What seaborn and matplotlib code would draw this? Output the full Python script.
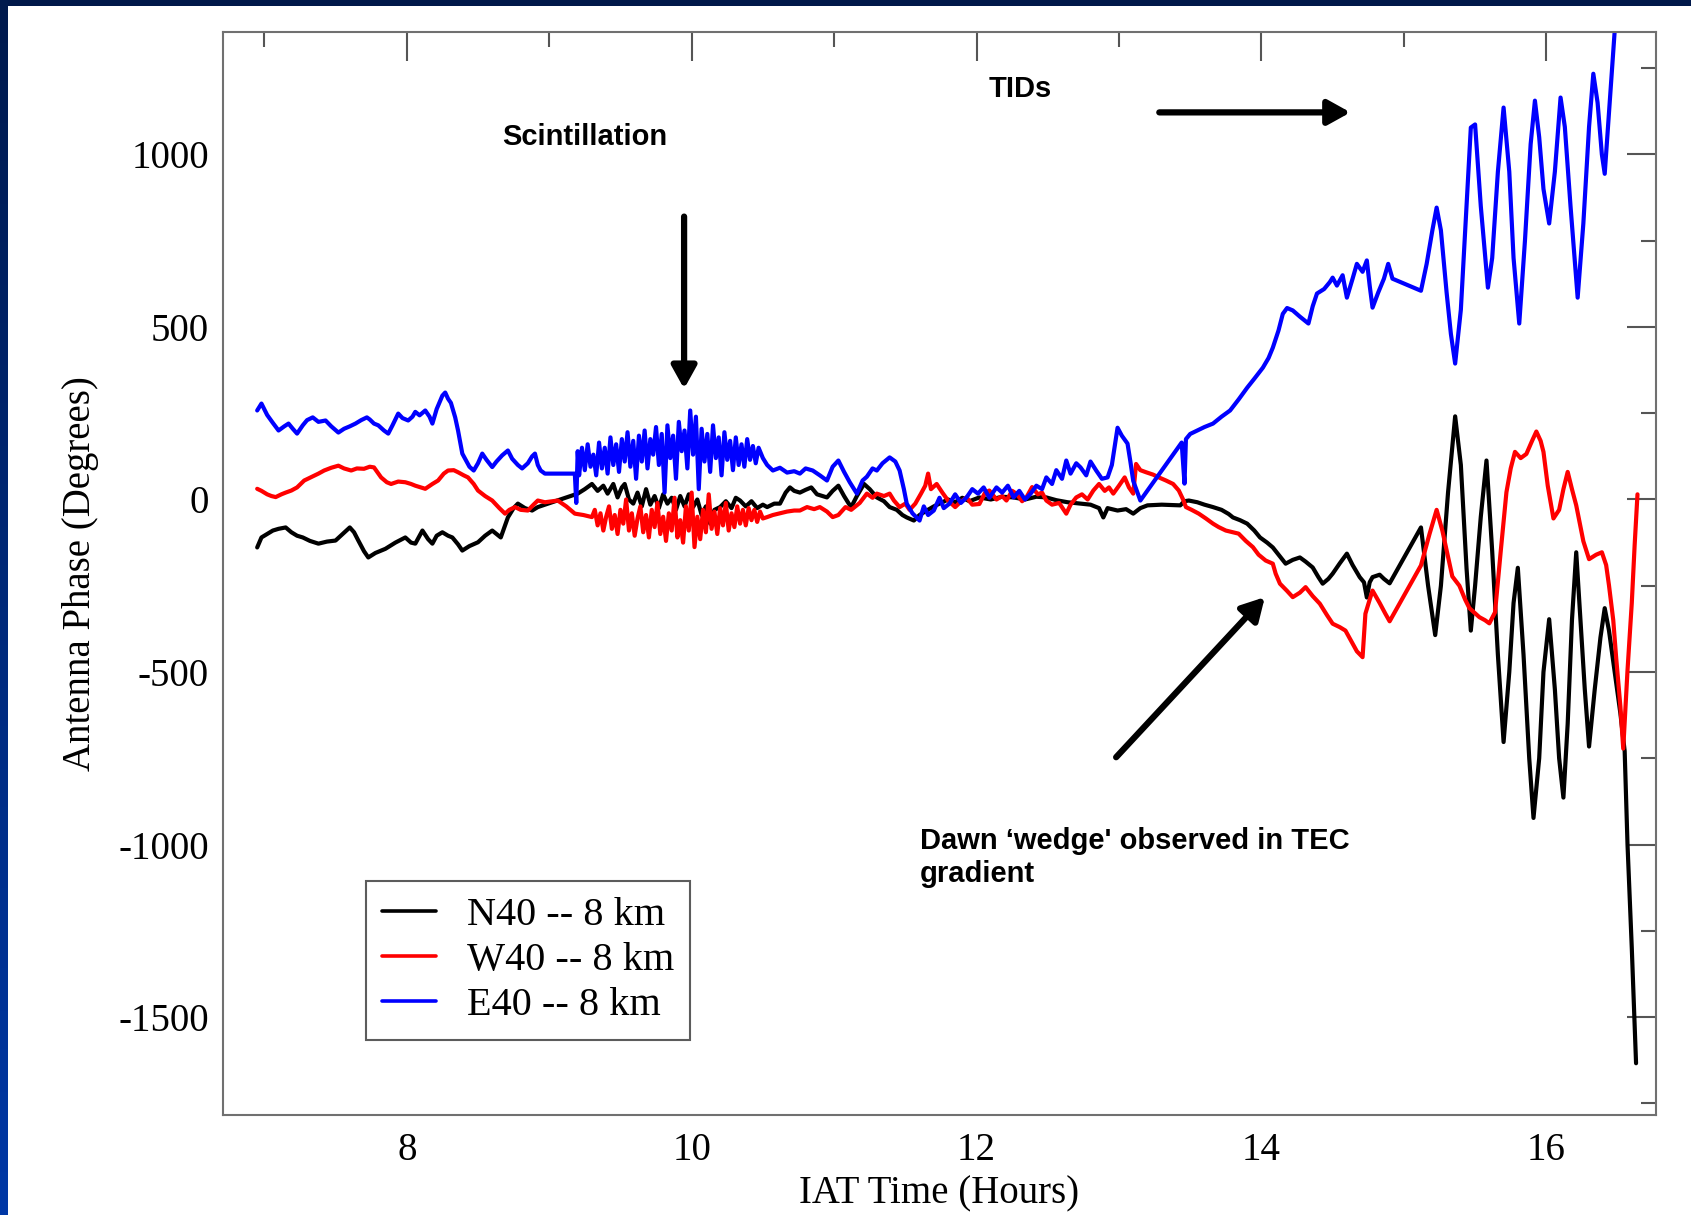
import numpy as np
import pandas as pd
import matplotlib
matplotlib.use('Agg')
import matplotlib.pyplot as plt
import seaborn as sns
from matplotlib.ticker import MultipleLocator
from matplotlib.patches import Rectangle

# ---- data (IAT hours, phase in degrees) ----
n40_t = [6.95, 6.98, 7.02, 7.06, 7.10, 7.15, 7.19, 7.23, 7.27, 7.32, 7.38, 7.44, 7.50, 7.55, 7.60,
         7.63, 7.66, 7.70, 7.73, 7.78, 7.85, 7.92, 7.99, 8.03, 8.06, 8.11, 8.15, 8.18, 8.21, 8.25,
         8.29, 8.32, 8.36, 8.39, 8.44, 8.50, 8.55, 8.60, 8.63, 8.66, 8.69, 8.71, 8.75, 8.78, 8.83,
         8.88, 8.92, 9.20, 9.25, 9.30, 9.34, 9.38, 9.41, 9.45, 9.48, 9.51, 9.53, 9.56, 9.59, 9.62,
         9.65, 9.68, 9.71, 9.74, 9.77, 9.80, 9.83, 9.86, 9.89, 9.92, 9.95, 9.98, 10.01, 10.04, 10.07,
         10.10, 10.13, 10.16, 10.20, 10.24, 10.28, 10.31, 10.34, 10.38, 10.42, 10.46, 10.50, 10.53,
         10.58, 10.62, 10.66, 10.69, 10.72, 10.76, 10.80, 10.84, 10.88, 10.92, 10.95, 10.99, 11.03,
         11.07, 11.10, 11.12, 11.16, 11.21, 11.25, 11.30, 11.35, 11.39, 11.44, 11.48, 11.51, 11.56,
         11.60, 11.65, 11.70, 11.75, 11.80, 11.85, 11.90, 11.95, 12.02, 12.10, 12.18, 12.26, 12.34,
         12.42, 12.49, 12.56, 12.64, 12.73, 12.80, 12.86, 12.89, 12.92, 12.99, 13.05, 13.10, 13.15,
         13.20, 13.30, 13.43, 13.46, 13.49, 13.55, 13.60, 13.66, 13.72, 13.77, 13.80, 13.85, 13.90,
         13.95, 13.99, 14.04, 14.08, 14.12, 14.17, 14.22, 14.27, 14.31, 14.36, 14.40, 14.43, 14.47,
         14.50, 14.55, 14.60, 14.64, 14.69, 14.72, 14.74, 14.76, 14.78, 14.83, 14.86, 14.90, 15.12,
         15.17, 15.22, 15.26, 15.31, 15.36, 15.40, 15.44, 15.47, 15.50, 15.54, 15.58, 15.62, 15.66,
         15.70, 15.74, 15.77, 15.80, 15.84, 15.88, 15.91, 15.95, 15.98, 16.02, 16.06, 16.09, 16.12,
         16.15, 16.18, 16.21, 16.24, 16.27, 16.30, 16.34, 16.38, 16.41, 16.44, 16.48, 16.52, 16.55,
         16.57, 16.60, 16.63]
n40_v = [-139, -110, -100, -90, -85, -81, -95, -105, -110, -120, -128, -122, -119, -100, -81,
         -95, -119, -150, -168, -155, -143, -125, -110, -125, -128, -90, -115, -128, -105, -95,
         -105, -110, -130, -148, -135, -124, -105, -90, -100, -110, -75, -52, -25, -12, -25,
         -32, -22, 17, 30, 45, 25, 40, 17, 45, 6, 35, 45, 0, -12, 20,
         -20, 30, -15, 10, -25, 15, -12, 5, -30, 10, -20, 15, -22, 0, -45,
         -20, -70, -30, -22, -5, -25, 5, -3, -20, -5, -25, -15, -22,
         -12, -12, 20, 35, 25, 20, 28, 35, 15, 10, 6, 25, 40,
         10, -10, -22, 10, 45, 30, 6, -5, -22, -30, -45, -52, -61,
         -45, -32, -20, -10, 0, -8, 5, -5, 6, 0, 8, 6, 0,
         8, 6, -2, -8, -12, -15, -25, -52, -25, -32, -28, -41, -25,
         -17, -15, -17, -5, -3, -8, -15, -22, -30, -42, -52, -60, -70,
         -90, -110, -125, -139, -160, -186, -175, -168, -180, -197, -225, -244, -230,
         -215, -185, -157, -190, -225, -240, -284, -240, -225, -218, -230, -243, -81,
         -250, -393, -250, 20, 241, 100, -200, -380, -250, -50, 113, -150, -450,
         -703, -500, -300, -198, -450, -750, -923, -750, -500, -347, -550, -750, -864,
         -650, -350, -153, -350, -550, -716, -550, -400, -315, -380, -500, -620, -729,
         -1000, -1300, -1634]

w40_t = [6.95, 6.98, 7.02, 7.05, 7.08, 7.12, 7.15, 7.19, 7.23, 7.28, 7.33, 7.38, 7.42, 7.47, 7.52,
         7.56, 7.61, 7.65, 7.70, 7.74, 7.77, 7.82, 7.86, 7.89, 7.94, 7.99, 8.03, 8.06, 8.10, 8.13,
         8.18, 8.22, 8.26, 8.29, 8.33, 8.36, 8.40, 8.43, 8.47, 8.50, 8.55, 8.60, 8.65, 8.69, 8.72,
         8.76, 8.80, 8.85, 8.89, 8.92, 8.97, 9.06, 9.12, 9.18, 9.24, 9.30, 9.32, 9.34, 9.36, 9.38,
         9.40, 9.42, 9.44, 9.46, 9.48, 9.50, 9.52, 9.54, 9.56, 9.58, 9.60, 9.62, 9.64, 9.66, 9.68,
         9.70, 9.72, 9.74, 9.76, 9.78, 9.80, 9.82, 9.84, 9.86, 9.88, 9.90, 9.92, 9.94, 9.96, 9.98,
         10.00, 10.02, 10.04, 10.06, 10.08, 10.10, 10.12, 10.14, 10.16, 10.18, 10.20, 10.22, 10.24,
         10.26, 10.28, 10.30, 10.32, 10.34, 10.36, 10.38, 10.40, 10.42, 10.44, 10.46, 10.48, 10.50,
         10.53, 10.57, 10.62, 10.67, 10.72, 10.76, 10.81, 10.86, 10.90, 10.95, 10.99, 11.03, 11.08,
         11.12, 11.18, 11.23, 11.27, 11.30, 11.35, 11.39, 11.42, 11.46, 11.50, 11.53, 11.57, 11.61,
         11.64, 11.66, 11.68, 11.72, 11.76, 11.80, 11.85, 11.88, 11.93, 11.97, 12.02, 12.06, 12.09,
         12.14, 12.18, 12.21, 12.25, 12.28, 12.32, 12.35, 12.39, 12.43, 12.46, 12.49, 12.53, 12.58,
         12.63, 12.66, 12.70, 12.74, 12.78, 12.82, 12.86, 12.90, 12.93, 12.96, 13.00, 13.04, 13.07,
         13.10, 13.12, 13.15, 13.19, 13.24, 13.28, 13.33, 13.38, 13.42, 13.45, 13.47, 13.51, 13.56,
         13.61, 13.66, 13.70, 13.75, 13.80, 13.84, 13.89, 13.94, 13.98, 14.03, 14.08, 14.10, 14.13,
         14.18, 14.22, 14.27, 14.31, 14.36, 14.41, 14.46, 14.50, 14.55, 14.59, 14.63, 14.67, 14.71,
         14.73, 14.76, 14.78, 14.83, 14.87, 14.90, 15.12, 15.18, 15.23, 15.27, 15.30, 15.34, 15.39,
         15.43, 15.46, 15.50, 15.53, 15.57, 15.60, 15.64, 15.68, 15.72, 15.75, 15.78, 15.82, 15.86,
         15.90, 15.93, 15.96, 15.98, 16.01, 16.05, 16.09, 16.12, 16.15, 16.18, 16.21, 16.26, 16.30,
         16.35, 16.39, 16.42, 16.44, 16.47, 16.49, 16.52, 16.54, 16.57, 16.60, 16.62, 16.64]
w40_v = [31, 25, 15, 10, 7, 15, 20, 26, 35, 55, 65, 75, 84, 92, 98,
         90, 84, 90, 89, 95, 93, 64, 50, 45, 52, 50, 45, 40, 35, 31,
         45, 55, 75, 84, 85, 79, 70, 64, 45, 26, 10, -3, -25, -41, -30,
         -22, -30, -32, -15, -3, -8, -3, -20, -41, -45, -51, -30, -75, -40, -90,
         -50, -20, -85, -45, -100, -30, -70, 0, -90, -40, -105, -55, -20, -95, -45,
         -110, -30, -80, -10, -100, -50, -120, -40, -90, 5, -110, -60, -125, -20, -90,
         20, -138, -50, -115, -30, -95, 15, -85, -35, -100, -25, -75, -10,
         -90, -40, -80, -20, -70, -30, -75, -25, -60, -30, -65, -35, -55,
         -51, -45, -40, -35, -32, -32, -22, -28, -22, -35, -51, -45, -22,
         -30, -10, 17, 5, 17, 10, 17, -3, -22, -12, -30, -12, 17,
         40, 75, 30, 45, 20, -3, -22, -10, 6, -15, -13, 20, 26,
         0, 10, -3, 25, 17, -5, 6, 36, 15, 20, -3, -15, -10,
         -41, -15, 6, 15, 0, 26, 45, 25, 35, 17, 40, 64, 35,
         17, 103, 85, 79, 72, 64, 55, 45, 26, 0, -22, -30, -41,
         -55, -70, -80, -90, -95, -99, -120, -138, -160, -177, -186, -215, -244,
         -265, -283, -270, -254, -280, -302, -335, -360, -370, -380, -410, -440, -457,
         -331, -290, -264, -300, -331, -353, -191, -100, -30, -90, -147, -223, -250,
         -290, -315, -330, -341, -350, -359, -327, -150, 21, 90, 138, 120, 132,
         170, 197, 170, 138, 40, -55, -30, 30, 80, 30, -17, -121, -173,
         -160, -153, -190, -249, -350, -457, -600, -722, -495, -300, -133, 15]

e40_t = [6.95, 6.98, 7.02, 7.06, 7.10, 7.14, 7.17, 7.20, 7.23, 7.27, 7.30, 7.34, 7.38, 7.43, 7.47,
         7.52, 7.56, 7.60, 7.64, 7.68, 7.72, 7.74, 7.77, 7.80, 7.84, 7.87, 7.90, 7.94, 7.97, 8.01,
         8.04, 8.06, 8.09, 8.13, 8.16, 8.18, 8.21, 8.25, 8.27, 8.29, 8.31, 8.34, 8.36, 8.39, 8.42,
         8.44, 8.47, 8.50, 8.53, 8.56, 8.60, 8.63, 8.67, 8.71, 8.74, 8.78, 8.81, 8.85, 8.88, 8.90,
         8.92, 8.94, 8.97, 9.18, 9.19, 9.20, 9.21, 9.23, 9.25, 9.27, 9.29, 9.31, 9.33, 9.35, 9.37,
         9.39, 9.41, 9.43, 9.45, 9.47, 9.49, 9.51, 9.53, 9.55, 9.57, 9.59, 9.61, 9.63, 9.65, 9.67,
         9.69, 9.71, 9.73, 9.75, 9.77, 9.79, 9.81, 9.83, 9.85, 9.87, 9.89, 9.91, 9.93, 9.95, 9.97,
         9.99, 10.01, 10.03, 10.05, 10.07, 10.09, 10.11, 10.13, 10.15, 10.17, 10.19, 10.21, 10.23,
         10.25, 10.27, 10.29, 10.31, 10.33, 10.35, 10.37, 10.39, 10.41, 10.43, 10.45, 10.47, 10.50,
         10.53, 10.57, 10.62, 10.67, 10.72, 10.76, 10.80, 10.85, 10.90, 10.95, 10.99, 11.03, 11.07,
         11.11, 11.16, 11.20, 11.23, 11.27, 11.30, 11.34, 11.39, 11.43, 11.46, 11.49, 11.51, 11.55,
         11.60, 11.63, 11.66, 11.70, 11.74, 11.77, 11.81, 11.85, 11.89, 11.93, 11.97, 12.01, 12.05,
         12.09, 12.14, 12.18, 12.22, 12.26, 12.30, 12.34, 12.38, 12.42, 12.46, 12.49, 12.53, 12.56,
         12.60, 12.63, 12.66, 12.70, 12.73, 12.77, 12.80, 12.84, 12.88, 12.92, 12.95, 12.99, 13.02,
         13.06, 13.08, 13.10, 13.13, 13.15, 13.44, 13.46, 13.47, 13.50, 13.55, 13.60, 13.66, 13.72,
         13.78, 13.84, 13.90, 13.95, 14.01, 14.05, 14.08, 14.12, 14.15, 14.18, 14.22, 14.27, 14.33,
         14.36, 14.39, 14.44, 14.48, 14.50, 14.53, 14.57, 14.60, 14.64, 14.67, 14.71, 14.74, 14.76,
         14.78, 14.82, 14.86, 14.89, 14.92, 15.12, 15.16, 15.20, 15.23, 15.26, 15.30, 15.33, 15.36,
         15.40, 15.44, 15.47, 15.50, 15.54, 15.59, 15.62, 15.66, 15.70, 15.74, 15.77, 15.81, 15.85,
         15.89, 15.92, 15.95, 15.98, 16.02, 16.06, 16.10, 16.13, 16.17, 16.22, 16.26, 16.30, 16.33,
         16.36, 16.39, 16.41, 16.44, 16.48, 16.49]
e40_v = [258, 278, 245, 222, 200, 212, 220, 205, 191, 215, 230, 238, 225, 229, 212,
         194, 205, 212, 220, 230, 238, 232, 220, 215, 200, 191, 215, 249, 236, 229,
         240, 254, 244, 258, 240, 220, 262, 301, 310, 292, 280, 238, 200, 133, 110,
         95, 84, 105, 133, 115, 94, 110, 128, 142, 118, 100, 90, 105, 125, 133,
         100, 84, 75, 75, -10, 140, 70, 150, 85, 160, 95, 130, 70, 165, 90,
         150, 75, 180, 100, 160, 80, 175, 110, 195, 95, 170, 60, 185, 110, 200,
         90, 175, 130, 210, 100, 190, 20, 215, 120, 185, 60, 225, 140, 200, 90,
         258, 130, 240, 30, 205, 110, 190, 80, 215, 120, 180, 70, 195,
         115, 170, 85, 180, 100, 160, 95, 175, 115, 155, 105, 150, 120,
         100, 84, 92, 78, 82, 75, 90, 84, 70, 55, 95, 113, 80,
         50, 17, 55, 66, 90, 84, 105, 122, 110, 84, 30, -12, -40,
         -61, -20, -45, -32, 5, -25, -12, 15, -10, 6, 30, 17, 35,
         5, 35, 20, 40, 6, 25, 0, 17, 40, 30, 64, 45, 85,
         60, 113, 75, 105, 93, 70, 110, 84, 60, 64, 100, 208, 185,
         162, 110, 54, 20, -3, 165, 46, 175, 190, 200, 210, 220, 240,
         258, 290, 324, 350, 382, 410, 440, 490, 538, 555, 548, 530, 510,
         560, 597, 610, 630, 643, 620, 650, 585, 640, 683, 660, 693, 620,
         556, 600, 640, 683, 640, 605, 683, 780, 846, 780, 600, 480, 394,
         550, 850, 1078, 1087, 850, 614, 700, 950, 1136, 950, 700, 510, 750,
         1030, 1156, 1050, 900, 800, 950, 1165, 1080, 850, 585, 800, 1080, 1234,
         1150, 1000, 944, 1120, 1358, 1420]

series_names = ['N40 -- 8 km', 'W40 -- 8 km', 'E40 -- 8 km']
series_colors = ['#000000', '#ff0000', '#0000ff']

x_major = [8, 10, 12, 14, 16]
y_major = [-1500, -1000, -500, 0, 500, 1000]

frames = []
for name, t, v in zip(series_names, [n40_t, w40_t, e40_t], [n40_v, w40_v, e40_v]):
    frames.append(pd.DataFrame({'time': t, 'phase': v, 'antenna': name}))
df = pd.concat(frames, ignore_index=True)

# ---- style ----
sns.set_style('white')
plt.rcParams['font.family'] = ['Liberation Serif', 'DejaVu Serif']
plt.rcParams['axes.unicode_minus'] = False
plt.rcParams['text.color'] = 'black'
plt.rcParams['axes.labelcolor'] = 'black'

fig = plt.figure(figsize=(16.91, 12.15), dpi=100)
fig.patch.set_facecolor('white')

# dark slide frame: top band and a left gradient band
fig.patches.append(Rectangle((0, 1 - 6 / 1215), 1, 6 / 1215, transform=fig.transFigure,
                             facecolor='#00184a', edgecolor='none', zorder=-5))
band = fig.add_axes([0, 0, 8 / 1691, 1])
grad = np.linspace(0, 1, 256).reshape(-1, 1)
band.imshow(grad, aspect='auto', cmap=matplotlib.colors.LinearSegmentedColormap.from_list(
    'slide', ['#001a4d', '#0038a6']), origin='upper')
band.axis('off')

ax = fig.add_axes([223 / 1691, 1 - 1115 / 1215, (1656 - 223) / 1691, (1115 - 32) / 1215])

sns.lineplot(data=df, x='time', y='phase', hue='antenna', hue_order=series_names,
             palette=dict(zip(series_names, series_colors)), sort=False, estimator=None,
             linewidth=3.0, ax=ax, legend=False)

ax.set_xlim(6.71, 16.77)
ax.set_ylim(-1784, 1355)
ax.set_xticks(x_major)
ax.set_yticks(y_major)
ax.xaxis.set_minor_locator(MultipleLocator(1))
ax.yaxis.set_minor_locator(MultipleLocator(250))
ax.tick_params(which='both', direction='in', top=True, right=True, color='#555555',
               labelcolor='black', labelsize=28)
ax.tick_params(which='major', length=21, width=1.5)
ax.tick_params(which='minor', length=11, width=1.5)
ax.tick_params(axis='x', pad=12)
ax.tick_params(axis='y', pad=10)
for s in ax.spines.values():
    s.set_color('#707070')
    s.set_linewidth(1.5)

ax.set_xlabel('IAT Time (Hours)', fontsize=28, color='black')
ax.set_ylabel('Antenna Phase (Degrees)', fontsize=28, color='black')
ax.xaxis.set_label_coords(0.5, -0.056)
ax.yaxis.set_label_coords(-0.0865, 0.5)

leg = ax.legend(handles=ax.lines[:3], labels=series_names, loc='upper left',
                bbox_to_anchor=(0.0998, 0.216), fontsize=29, frameon=True, fancybox=False,
                handlelength=1.35, handletextpad=0.75, labelspacing=0.19, borderpad=0.4,
                borderaxespad=0)
leg.get_frame().set_edgecolor('#333333')
leg.get_frame().set_linewidth(1.5)
for h in leg.get_lines():
    h.set_linewidth(2.6)
for txt in leg.get_texts():
    txt.set_color('black')

# ---- annotations ----
note_font = dict(family=['Liberation Sans', 'DejaVu Sans'], fontsize=21, fontweight='bold',
                 color='black')
ax.text(9.25, 1052, 'Scintillation', ha='center', va='center', **note_font)
ax.text(12.31, 1191, 'TIDs', ha='center', va='center', **note_font)
ax.text(11.60, -1037, 'Dawn \u2018wedge\' observed in TEC\ngradient', ha='left', va='center',
        linespacing=1.25, **note_font)

arrow = dict(arrowstyle='-|>,head_length=0.45,head_width=0.25', color='black', lw=4.5,
             mutation_scale=30, shrinkA=0, shrinkB=0)
ax.annotate('', xy=(9.947, 321), xytext=(9.947, 820), arrowprops=arrow)
ax.annotate('', xy=(14.625, 1122), xytext=(13.283, 1122), arrowprops=arrow)
ax.annotate('', xy=(14.024, -283), xytext=(12.98, -747), arrowprops=arrow)

fig.savefig('out.png', dpi=100)
